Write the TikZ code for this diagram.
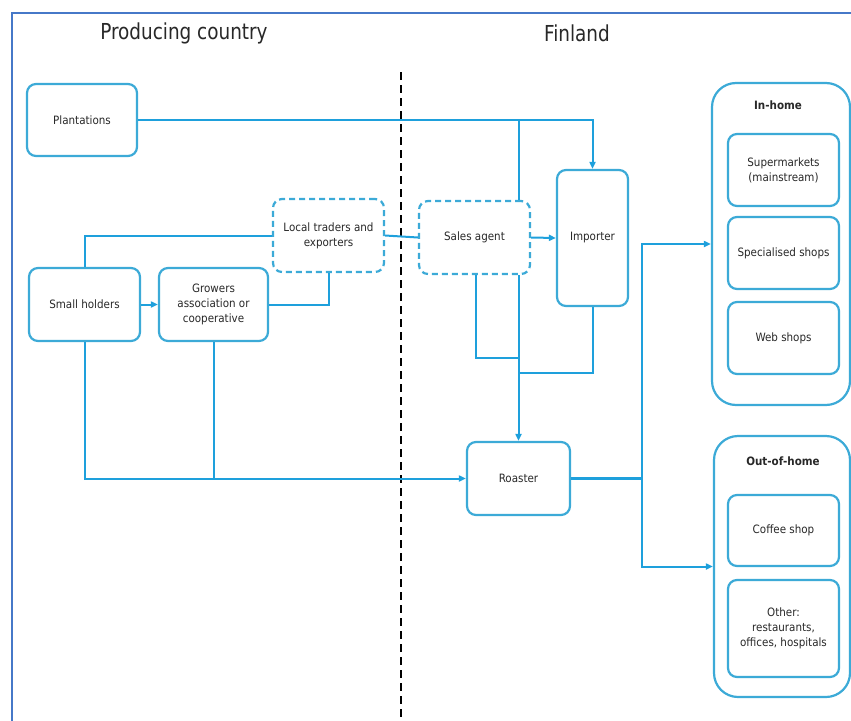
\documentclass[tikz,border=0pt]{standalone}
\usepackage{fontspec}
\setmainfont{DejaVu Sans Condensed}
\newfontfamily\titlefont[FakeStretch=0.93]{DejaVu Sans Condensed}
\usetikzlibrary{arrows.meta}
\definecolor{flow}{RGB}{30,160,220}
\definecolor{boxline}{RGB}{60,170,215}
\definecolor{frameblue}{RGB}{70,120,200}
\definecolor{txt}{RGB}{40,40,40}

\begin{document}
\begin{tikzpicture}[x=1pt,y=-1pt,
  box/.style={draw=boxline, line width=2.2pt, rounded corners=9pt, fill=white,
    align=center, font=\fontsize{11.5}{15}\selectfont, text=txt, inner sep=0pt},
  dbox/.style={box, dash pattern=on 6pt off 4pt},
  group/.style={draw=boxline, line width=2.2pt, rounded corners=24pt, fill=white, inner sep=0pt},
  grouplabel/.style={font=\bfseries\fontsize{11.5}{13}\selectfont, text=txt},
  title/.style={font=\titlefont\fontsize{22}{26}\selectfont, text=txt},
  flowline/.style={draw=flow, line width=2pt},
  arr/.style={flowline, -{Triangle[length=7pt,width=6pt]}},
]
\useasboundingbox (0,0) rectangle (851,720);

% outer frame
\coordinate (fbl) at (12,722);
\coordinate (ftl) at (12,13);
\coordinate (ftr) at (853,13);
\draw[frameblue, line width=2pt] (fbl) -- (ftl) -- (ftr);

% column titles
\node[title] (tprod) at (184,33) {Producing country};
\node[title] (tfin) at (577,33) {Finland};

% border between the two countries
\coordinate (divtop) at (401,72);
\coordinate (divbot) at (401,718);
\draw[black, line width=2pt, dash pattern=on 8pt off 5pt] (divtop) -- (divbot);

% producing side
\node[box, minimum width=110, minimum height=72] (plant) at (82,120) {Plantations};
\node[box, minimum width=111, minimum height=73] (small) at (84.5,304.5) {Small holders};
\node[box, minimum width=109, minimum height=73] (grow) at (213.5,304.5) {Growers\\association or\\cooperative};
\node[dbox, minimum width=111, minimum height=73] (trad) at (328.5,235.5) {Local traders and\\exporters};

% Finnish side
\node[dbox, minimum width=111, minimum height=73] (sales) at (474.5,237.5) {Sales agent};
\node[box, minimum width=71, minimum height=136] (imp) at (592.5,238) {Importer};
\node[box, minimum width=103, minimum height=73] (roast) at (518.5,478.5) {Roaster};

% in-home channels
\node[group, minimum width=138, minimum height=322] (inhome) at (781,244) {};
\node[grouplabel] (inlab) at (778,105) {In-home};
\node[box, minimum width=111, minimum height=72] (super) at (783.5,170) {Supermarkets\\(mainstream)};
\node[box, minimum width=111, minimum height=72] (spec) at (783.5,253) {Specialised shops};
\node[box, minimum width=111, minimum height=72] (web) at (783.5,338) {Web shops};

% out-of-home channels
\node[group, minimum width=136, minimum height=261] (outhome) at (782,566.5) {};
\node[grouplabel] (outlab) at (783,461) {Out-of-home};
\node[box, minimum width=111, minimum height=71] (coffee) at (783.5,530.5) {Coffee shop};
\node[box, minimum width=111, minimum height=97] (other) at (783.5,628.5) {Other:\\restaurants,\\offices, hospitals};

% plantations to importer and roaster
\coordinate (j1) at (518.5,120);
\draw[arr] (plant.east) -| (imp.north);
\draw[flowline] (j1) -- (j1 |- sales.north);
\draw[arr] (j1 |- sales.south) -- (roast.north);

% sales agent and importer to roaster
\coordinate (j2) at (518.5,358);
\coordinate (j3) at (518.5,373);
\draw[flowline] ([xshift=1.5pt]sales.south) |- (j2);
\draw[flowline] (imp.south) |- (j3);
\draw[arr] (sales.east) -- (imp.west);
\draw[flowline] (trad.east) -- (sales.west);

% small holders and growers
\draw[flowline] (small.north) |- (trad.west);
\draw[arr] (small.east) -- (grow.west);
\draw[flowline] (grow.east) -| (trad.south);
\draw[arr] (small.south) |- (roast.west);
\draw[flowline] (grow.south) -- (grow.south |- roast.west);

% roaster to the consumer channels
\coordinate (r1) at (641.5,478.5);
\coordinate (r2) at (641.5,244);
\coordinate (r3) at (641.5,566.5);
\draw[flowline, line width=2.8pt] (roast.east) -- (r1);
\draw[arr] (r1) -- (r2) -- (inhome.west);
\draw[arr] (r1) -- (r3) -- (outhome.west);
\end{tikzpicture}
\end{document}
